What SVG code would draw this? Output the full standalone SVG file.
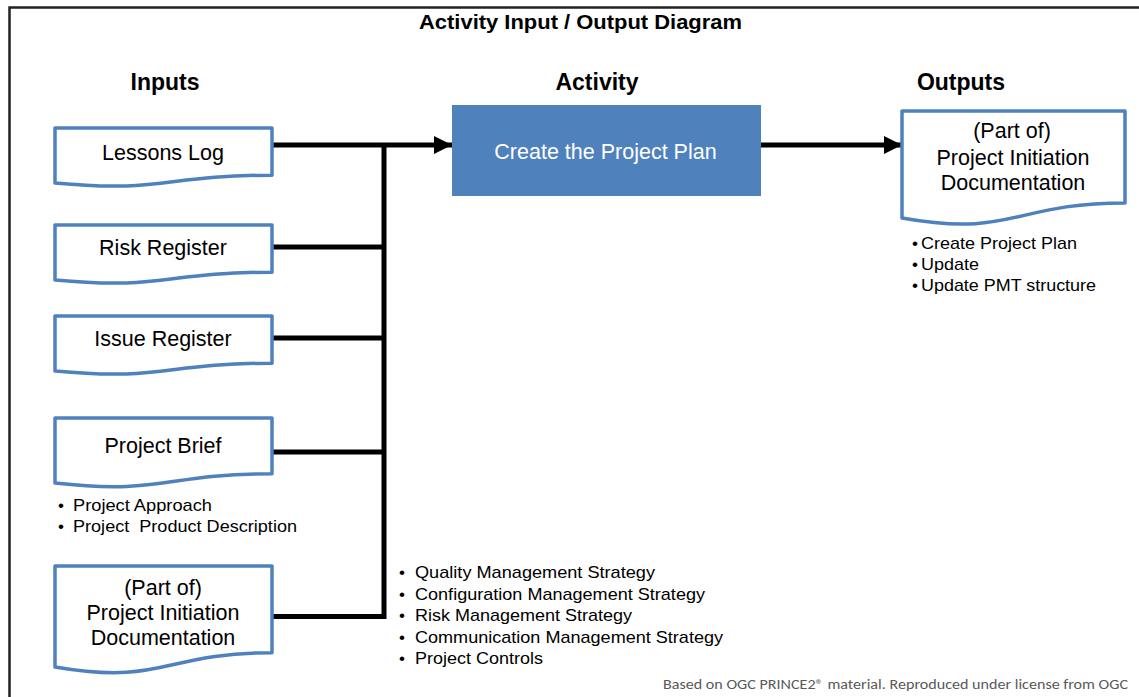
<svg xmlns="http://www.w3.org/2000/svg" width="1139" height="697" viewBox="0 0 1139 697">
<defs>
<style>
.t{font-family:"Liberation Sans",Arial,sans-serif;fill:#000}
.h{font-size:23px;font-weight:bold;text-anchor:middle}
.lbl{font-size:21.5px;text-anchor:middle}
.b{font-size:17px}
.doc{fill:#fff;stroke:#4F81BD;stroke-width:3.5;stroke-linejoin:round}
.ln{fill:none;stroke:#000;stroke-width:5}
</style>
<marker id="arr" markerUnits="userSpaceOnUse" markerWidth="18" markerHeight="18" refX="18" refY="9" orient="auto">
<path d="M0,0 L18,9 L0,18 Z" fill="#000"/>
</marker>
</defs>
<rect x="0" y="0" width="1139" height="697" fill="#fff"/>
<rect x="9.5" y="7.5" width="1140" height="700" fill="none" stroke="#222" stroke-width="2.5"/>
<text class="t" x="580.5" y="29" font-size="21" font-weight="bold" text-anchor="middle" textLength="323" lengthAdjust="spacingAndGlyphs">Activity Input / Output Diagram</text>
<text class="t h" x="165" y="90">Inputs</text>
<text class="t h" x="597" y="90">Activity</text>
<text class="t h" x="961" y="90">Outputs</text>

<g id="connectors">
<line class="ln" x1="272" y1="145" x2="452" y2="145" marker-end="url(#arr)"/>
<line class="ln" x1="384" y1="145" x2="384" y2="619"/>
<line class="ln" x1="272" y1="247" x2="386" y2="247"/>
<line class="ln" x1="272" y1="338" x2="386" y2="338"/>
<line class="ln" x1="272" y1="452" x2="386" y2="452"/>
<line class="ln" x1="272" y1="616.5" x2="386" y2="616.5"/>
<line class="ln" x1="761" y1="145" x2="902" y2="145" marker-end="url(#arr)"/>
</g>

<g id="lessons-log">
<path class="doc" d="M55,128 H272 V175.2 C163.5,175.2 163.5,193.2 55,183 Z"/>
<text class="t lbl" x="163" y="160">Lessons Log</text>
</g>
<g id="risk-register">
<path class="doc" d="M55,225 H272 V272.2 C163.5,272.2 163.5,290.2 55,280 Z"/>
<text class="t lbl" x="163" y="255">Risk Register</text>
</g>
<g id="issue-register">
<path class="doc" d="M55,316 H272 V363.2 C163.5,363.2 163.5,381.2 55,371 Z"/>
<text class="t lbl" x="163" y="346">Issue Register</text>
</g>
<g id="project-brief">
<path class="doc" d="M55,418 H272 V473.8 C163.5,473.8 163.5,495 55,483 Z"/>
<text class="t lbl" x="163" y="453">Project Brief</text>
<text class="t b" x="58" y="511">•</text>
<text class="t b" x="73" y="511" textLength="139" lengthAdjust="spacingAndGlyphs">Project Approach</text>
<text class="t b" x="58" y="532">•</text>
<text class="t b" x="73" y="532" textLength="224" lengthAdjust="spacingAndGlyphs" xml:space="preserve">Project  Product Description</text>
</g>
<g id="pid-input">
<path class="doc" d="M55,566 H272 V652.7 C163.5,652.7 163.5,685.7 55,667 Z"/>
<text class="t lbl" x="163" y="595">(Part of)</text>
<text class="t lbl" x="163" y="620">Project Initiation</text>
<text class="t lbl" x="163" y="645">Documentation</text>
</g>

<g id="activity">
<rect x="452" y="105" width="309" height="91" fill="#4F81BD"/>
<text class="t lbl" x="605.5" y="159" style="fill:#fff">Create the Project Plan</text>
</g>

<g id="pid-output">
<path class="doc" d="M902,111 H1125 V202.9 C1013.5,202.9 1013.5,237.8 902,218 Z"/>
<text class="t lbl" x="1012" y="138">(Part of)</text>
<text class="t lbl" x="1013" y="165">Project Initiation</text>
<text class="t lbl" x="1013" y="190">Documentation</text>
<text class="t b" x="912" y="249">•</text>
<text class="t b" x="921" y="249" textLength="156" lengthAdjust="spacingAndGlyphs">Create Project Plan</text>
<text class="t b" x="912" y="270">•</text>
<text class="t b" x="921" y="270" textLength="58" lengthAdjust="spacingAndGlyphs">Update</text>
<text class="t b" x="912" y="291">•</text>
<text class="t b" x="921" y="291" textLength="175" lengthAdjust="spacingAndGlyphs">Update PMT structure</text>
</g>

<g id="strategies">
<text class="t b" x="399" y="578">•</text>
<text class="t b" x="415" y="578" textLength="240" lengthAdjust="spacingAndGlyphs">Quality Management Strategy</text>
<text class="t b" x="399" y="600">•</text>
<text class="t b" x="415" y="600" textLength="290" lengthAdjust="spacingAndGlyphs">Configuration Management Strategy</text>
<text class="t b" x="399" y="621">•</text>
<text class="t b" x="415" y="621" textLength="217" lengthAdjust="spacingAndGlyphs">Risk Management Strategy</text>
<text class="t b" x="399" y="643">•</text>
<text class="t b" x="415" y="643" textLength="308" lengthAdjust="spacingAndGlyphs">Communication Management Strategy</text>
<text class="t b" x="399" y="664">•</text>
<text class="t b" x="415" y="664" textLength="128" lengthAdjust="spacingAndGlyphs">Project Controls</text>
</g>

<text x="663" y="689" font-family="Carlito,'Liberation Sans',Arial,sans-serif" font-size="13.5" fill="#595959" textLength="465" lengthAdjust="spacingAndGlyphs">Based on OGC PRINCE2® material. Reproduced under license from OGC</text>
</svg>
